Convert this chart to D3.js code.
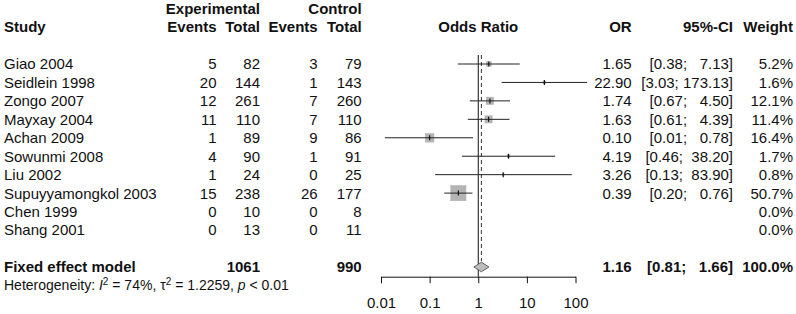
<!DOCTYPE html>
<html>
<head>
<meta charset="utf-8">
<script src="https://cdn.jsdelivr.net/npm/d3@7/dist/d3.min.js"></script>
<style>
  html, body { margin: 0; padding: 0; background: #fff; }
  svg { display: block; }
  text { font-family: "Liberation Sans", Arial, sans-serif; fill: #111; }
</style>
</head>
<body>
<svg id="chart" width="796" height="314"></svg>
<script>
// ---------- data ----------
const studies = ["Giao 2004", "Seidlein 1998", "Zongo 2007", "Mayxay 2004", "Achan 2009",
  "Sowunmi 2008", "Liu 2002", "Supuyyamongkol 2003", "Chen 1999", "Shang 2001"];
const expEvents  = [5, 20, 12, 11, 1, 4, 1, 15, 0, 0];
const expTotal   = [82, 144, 261, 110, 89, 90, 24, 238, 10, 13];
const ctrlEvents = [3, 1, 7, 7, 9, 1, 0, 26, 0, 0];
const ctrlTotal  = [79, 143, 260, 110, 86, 91, 25, 177, 8, 11];
const oddsRatio  = [1.65, 22.90, 1.74, 1.63, 0.10, 4.19, 3.26, 0.39, null, null];
const ciLower    = [0.38, 3.03, 0.67, 0.61, 0.012, 0.46, 0.13, 0.20, null, null];
const ciUpper    = [7.13, 173.13, 4.50, 4.39, 0.78, 38.20, 83.90, 0.76, null, null];
const weights    = [5.2, 1.6, 12.1, 11.4, 16.4, 1.7, 0.8, 50.7, 0.0, 0.0];
const pooledLabel = "Fixed effect model";
const pooledOR = 1.16, pooledLower = 0.81, pooledUpper = 1.66, pooledWeight = 100.0;
const pooledExpTotal = 1061, pooledCtrlTotal = 990;
const axisTicks = [0.01, 0.1, 1, 10, 100];
const axisTickLabels = ["0.01", "0.1", "1", "10", "100"];

// ---------- layout ----------
const svg = d3.select("#chart");
const FS = 15;
const x = d3.scaleLog().domain([0.01, 100]).range([381, 575.5]);
const y = d3.scaleLinear().domain([0, studies.length - 1]).range([64, 230]);
const yPooled = 267;
const yAxis = 276.7;
const yTop = 55;
const col = { study: 4, expEv: 216.5, expTot: 260, ctrlEv: 317.7, ctrlTot: 361.7,
              or: 631.7, ci: 733, w: 793 };
const baseOff = 5.4;

function txt(xp, yp, s, anchor, bold, size) {
  return svg.append("text")
    .attr("x", xp).attr("y", yp)
    .attr("text-anchor", anchor || "start")
    .attr("font-size", size || FS)
    .attr("font-weight", bold ? "bold" : "normal")
    .style("white-space", "pre")
    .text(s);
}

// headers
txt(col.expTot, 14, "Experimental", "end", true);
txt(col.ctrlTot, 14, "Control", "end", true);
txt(col.study, 32, "Study", "start", true);
txt(col.expEv, 32, "Events", "end", true);
txt(col.expTot, 32, "Total", "end", true);
txt(col.ctrlEv, 32, "Events", "end", true);
txt(col.ctrlTot, 32, "Total", "end", true);
txt((x.range()[0] + x.range()[1]) / 2, 32, "Odds Ratio", "middle", true);
txt(col.or, 32, "OR", "end", true);
txt(col.ci, 32, "95%-CI", "end", true);
txt(col.w, 32, "Weight", "end", true);

// CI formatting like R meta (upper padded to common width)
const allUpper = ciUpper.filter(v => v != null).concat([pooledUpper]).map(v => v.toFixed(2));
const upW = d3.max(allUpper, s => s.length);
const allLower = ciLower.filter(v => v != null).concat([pooledLower]).map(v => v.toFixed(2));
const loW = d3.max(allLower, s => s.length);
function fmtCI(lo, hi) {
  return "[" + lo.toFixed(2).padStart(loW, " ") + "; " + hi.toFixed(2).padStart(upW, " ") + "]";
}

// study rows text
studies.forEach((s, i) => {
  const yy = y(i) + baseOff;
  txt(col.study, yy, s, "start");
  txt(col.expEv, yy, String(expEvents[i]), "end");
  txt(col.expTot, yy, String(expTotal[i]), "end");
  txt(col.ctrlEv, yy, String(ctrlEvents[i]), "end");
  txt(col.ctrlTot, yy, String(ctrlTotal[i]), "end");
  if (oddsRatio[i] != null) {
    txt(col.or, yy, oddsRatio[i].toFixed(2), "end");
    txt(col.ci, yy, fmtCI(ciLower[i], ciUpper[i]), "end");
  }
  txt(col.w, yy, weights[i].toFixed(1) + "%", "end");
});

// pooled row text
const yp = yPooled + baseOff;
txt(col.study, yp, pooledLabel, "start", true);
txt(col.expTot, yp, String(pooledExpTotal), "end", true);
txt(col.ctrlTot, yp, String(pooledCtrlTotal), "end", true);
txt(col.or, yp, pooledOR.toFixed(2), "end", true);
txt(col.ci, yp, fmtCI(pooledLower, pooledUpper), "end", true);
txt(col.w, yp, pooledWeight.toFixed(1) + "%", "end", true);

// heterogeneity
const het = svg.append("text").attr("x", col.study).attr("y", 289.5)
  .attr("font-size", 14).style("white-space", "pre");
het.append("tspan").text("Heterogeneity: ");
het.append("tspan").attr("font-style", "italic").text("I");
het.append("tspan").attr("font-size", 10).attr("dy", -5).text("2");
het.append("tspan").attr("dy", 5).text(" = 74%, \u03c4");
het.append("tspan").attr("font-size", 10).attr("dy", -5).text("2");
het.append("tspan").attr("dy", 5).text(" = 1.2259, ");
het.append("tspan").attr("font-style", "italic").text("p");
het.append("tspan").text(" < 0.01");

// reference lines
svg.append("line")
  .attr("x1", x(1)).attr("x2", x(1)).attr("y1", yTop).attr("y2", yAxis)
  .attr("stroke", "#111").attr("stroke-width", 1);
const dh = 4.8;
svg.append("line")
  .attr("x1", x(pooledOR)).attr("x2", x(pooledOR)).attr("y1", yTop).attr("y2", yPooled - dh - 1)
  .attr("stroke", "#333").attr("stroke-width", 1).attr("stroke-dasharray", "4,3");

// squares and CIs
const sqK = 15.3 / Math.sqrt(50.7);
studies.forEach((s, i) => {
  if (oddsRatio[i] == null) return;
  const cy = y(i);
  const cx = x(oddsRatio[i]);
  const sz = sqK * Math.sqrt(weights[i]);
  svg.append("rect")
    .attr("x", cx - sz / 2).attr("y", cy - sz / 2)
    .attr("width", sz).attr("height", sz)
    .attr("fill", "#b4b4b4").attr("stroke", "#b4b4b4").attr("stroke-width", 0.5);
  svg.append("line")
    .attr("x1", x(ciLower[i])).attr("x2", x(ciUpper[i]))
    .attr("y1", cy).attr("y2", cy)
    .attr("stroke", "#222").attr("stroke-width", 1);
  svg.append("line")
    .attr("x1", cx).attr("x2", cx).attr("y1", cy - 2.5).attr("y2", cy + 2.5)
    .attr("stroke", "#111").attr("stroke-width", 1.2);
});

// diamond
svg.append("path")
  .attr("d", `M${x(pooledLower)},${yPooled} L${x(pooledOR)},${yPooled - dh} L${x(pooledUpper)},${yPooled} L${x(pooledOR)},${yPooled + dh} Z`)
  .attr("fill", "#bdbdbd").attr("stroke", "#444").attr("stroke-width", 0.8);

// axis
const axis = d3.axisBottom(x).tickValues(axisTicks)
  .tickFormat((d, i) => axisTickLabels[i])
  .tickSize(6.5).tickSizeOuter(0).tickPadding(14);
const ag = svg.append("g").attr("transform", `translate(0,${yAxis})`).call(axis);
ag.attr("font-size", FS).attr("font-family", "Liberation Sans, Arial, sans-serif");
ag.selectAll("text").attr("fill", "#111");
ag.selectAll("path, line").attr("stroke", "#111");
</script>
</body>
</html>
